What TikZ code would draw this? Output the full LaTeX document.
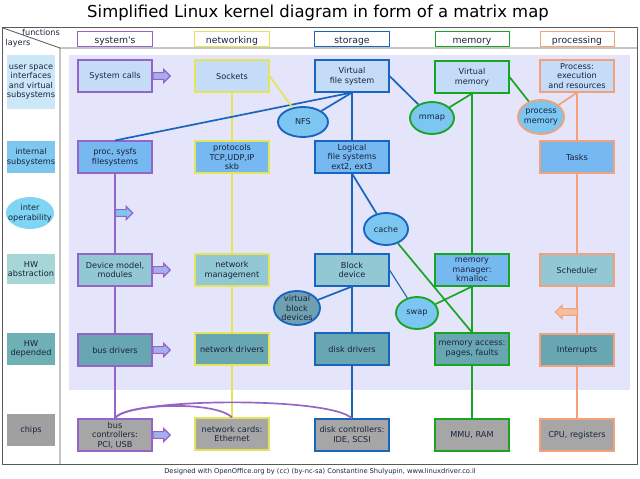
\documentclass[tikz,border=0pt]{standalone}
\usepackage{fontspec}
\setmainfont{DejaVu Sans}
\usetikzlibrary{shapes.geometric,shapes.arrows}
\definecolor{sysc}{RGB}{150,100,200}
\definecolor{netc}{RGB}{228,228,90}
\definecolor{stoc}{RGB}{25,100,190}
\definecolor{memc}{RGB}{25,165,35}
\definecolor{prc}{RGB}{244,160,120}
\definecolor{prcl}{RGB}{246,190,160}
\definecolor{bgc}{RGB}{228,228,250}
\definecolor{userc}{RGB}{196,220,248}
\definecolor{intc}{RGB}{118,184,240}
\definecolor{hwac}{RGB}{146,200,212}
\definecolor{hwdc}{RGB}{104,166,178}
\definecolor{chipc}{RGB}{166,166,166}
\definecolor{ellc}{RGB}{124,198,242}
\definecolor{vbdc}{RGB}{110,160,176}
\definecolor{arrc}{RGB}{165,175,235}
\definecolor{txtc}{RGB}{25,35,60}
\definecolor{framec}{RGB}{90,90,90}
\definecolor{lusr}{RGB}{204,232,248}
\definecolor{lint}{RGB}{126,200,240}
\definecolor{lio}{RGB}{126,214,244}
\definecolor{lhwa}{RGB}{166,214,214}
\definecolor{lhwd}{RGB}{110,176,180}
\definecolor{lchip}{RGB}{160,160,160}
\newcommand\mapfont{\fontsize{5.8}{6.8}\selectfont}
\newcommand\mapheadfont{\fontsize{6.6}{7.5}\selectfont}
\newcommand\maptitlefont{\fontsize{11.7}{13}\selectfont}
\newcommand\mapfootfont{\fontsize{4.75}{5.5}\selectfont}
\begin{document}
\begin{tikzpicture}[x=0.025cm,y=-0.025cm,
  every node/.style={text=txtc,font=\mapfont},
  box/.style={draw,line width=1.3pt,minimum width=1.83cm,minimum height=0.78cm,align=center,inner sep=1pt},
  colhead/.style={draw,line width=0.7pt,minimum width=1.85cm,minimum height=0.34cm,inner sep=0pt,
    text height=1.6ex,text depth=0.45ex,font=\mapheadfont},
  rowlabel/.style={minimum width=1.2cm,align=center,inner sep=0pt},
  bubble/.style={ellipse,draw,line width=1.3pt,fill=ellc,inner sep=0pt,align=center},
  blockarrow/.style={single arrow,draw=#1,line width=0.8pt,inner xsep=0pt,inner ysep=0.07cm,
    single arrow head extend=0.08cm,minimum height=0.43cm,anchor=tail},
  wire/.style={line width=1.2pt}]
\useasboundingbox (0,0) rectangle (640,479);
\fill[bgc] (69,55) rectangle (630,390);
\node[font=\maptitlefont,text=black] (title) at (318,13) {Simplified Linux kernel diagram in form of a matrix map};
\draw[framec,line width=0.6pt] (2,27) rectangle (637,464);
\draw[framec,line width=0.6pt] (3,28) -- (60,48) -- (637,48) (60,48) -- (60,464);
\node (fn) at (41,32) {functions};
\node (ly) at (18,43) {layers};

\node[colhead,draw=sysc] (hsys) at (115,39) {system\textquotesingle s};
\node[colhead,draw=netc] (hnet) at (232,39) {networking};
\node[colhead,draw=stoc] (hsto) at (352,39) {storage};
\node[colhead,draw=memc] (hmem) at (472,39) {memory};
\node[colhead,draw=prc] (hprc) at (577,39) {processing};

\node[rowlabel,fill=lusr,minimum height=1.35cm] (rusr) at (31,82) {user space\\interfaces\\and virtual\\subsystems};
\node[rowlabel,fill=lint,minimum height=0.78cm] (rint) at (31,157) {internal\\subsystems};
\node[ellipse,fill=lio,minimum width=1.2cm,minimum height=0.8cm,inner xsep=-6pt,inner ysep=0pt,align=center] (rio) at (30,213) {inter\\operability};
\node[rowlabel,fill=lhwa,minimum height=0.75cm] (rhwa) at (31,269) {HW\\abstraction};
\node[rowlabel,fill=lhwd,minimum height=0.78cm] (rhwd) at (31,349) {HW\\depended};
\node[rowlabel,fill=lchip,minimum height=0.78cm] (rchip) at (31,430) {chips};

\node[box,draw=sysc,fill=userc] (syscall) at (115,76) {System calls};
\node[box,draw=netc,fill=userc] (sockets) at (232,76) {Sockets};
\node[box,draw=stoc,fill=userc] (vfs) at (352,76) {Virtual\\file system};
\node[box,draw=memc,fill=userc] (vmem) at (472,77) {Virtual\\memory};
\node[box,draw=prc,fill=userc] (process) at (577,76) {Process:\\execution\\and resources};

\node[box,draw=sysc,fill=intc] (procfs) at (115,157) {proc, sysfs\\filesystems};
\node[box,draw=netc,fill=intc] (proto) at (232,157) {protocols\\TCP,UDP,IP\\skb};
\node[box,draw=stoc,fill=intc] (logfs) at (352,157) {Logical\\file systems\\ext2, ext3};
\node[box,draw=prc,fill=intc] (tasks) at (577,157) {Tasks};

\node[box,draw=sysc,fill=hwac] (devmodel) at (115,270) {Device model,\\modules};
\node[box,draw=netc,fill=hwac] (netmgmt) at (232,270) {network\\management};
\node[box,draw=stoc,fill=hwac] (block) at (352,270) {Block\\device};
\node[box,draw=memc,fill=intc] (mmgr) at (472,270) {memory\\manager:\\kmalloc};
\node[box,draw=prc,fill=hwac] (sched) at (577,270) {Scheduler};

\node[box,draw=sysc,fill=hwdc] (busdrv) at (115,350) {bus drivers};
\node[box,draw=netc,fill=hwdc] (netdrv) at (232,349) {network drivers};
\node[box,draw=stoc,fill=hwdc] (diskdrv) at (352,349) {disk drivers};
\node[box,draw=memc,fill=hwdc] (memacc) at (472,349) {memory access:\\pages, faults};
\node[box,draw=prc,fill=hwdc] (irq) at (577,350) {Interrupts};

\node[box,draw=sysc,fill=chipc] (busctl) at (115,435) {bus\\controllers:\\PCI, USB};
\node[box,draw=netc,fill=chipc] (netcard) at (232,434) {network cards:\\Ethernet};
\node[box,draw=stoc,fill=chipc] (diskctl) at (352,435) {disk controllers:\\IDE, SCSI};
\node[box,draw=memc,fill=chipc] (mmu) at (472,435) {MMU, RAM};
\node[box,draw=prc,fill=chipc] (cpu) at (577,435) {CPU, registers};

\node[bubble,draw=stoc,minimum width=1.25cm,minimum height=0.75cm] (nfs) at (303,122) {NFS};
\node[bubble,draw=memc,minimum width=1.1cm,minimum height=0.8cm] (mmap) at (432,118) {mmap};
\node[bubble,draw=prc,minimum width=1.15cm,minimum height=0.85cm,inner xsep=-2pt] (pmem) at (541,117) {process\\memory};
\node[bubble,draw=stoc,minimum width=1.1cm,minimum height=0.8cm] (cache) at (386,229) {cache};
\node[bubble,draw=memc,minimum width=1.05cm,minimum height=0.8cm] (swap) at (417,313) {swap};
\node[bubble,draw=stoc,fill=vbdc,minimum width=1.15cm,minimum height=0.85cm,inner xsep=-3pt,inner ysep=-3pt] (vbd) at (297,308) {virtual\\block\\devices};

\draw[wire,sysc] (procfs) -- (devmodel) -- (busdrv) -- (busctl);
\draw[wire,netc] (sockets) -- (proto) -- (netmgmt) -- (netdrv) -- (netcard);
\draw[wire,stoc] (vfs) -- (logfs) -- (block) -- (diskdrv) -- (diskctl);
\draw[wire,memc] (vmem) -- (mmgr) -- (memacc) -- (mmu);
\draw[wire,prc] (process) -- (tasks) -- (sched) -- (irq) -- (cpu);
\draw[wire,stoc] (procfs.north) -- (vfs.south);
\draw[wire,stoc] (nfs) -- (vfs.south);
\draw[wire,netc] (sockets.east) -- (nfs);
\draw[wire,stoc] (vfs.east) -- (mmap);
\draw[wire,memc] (mmap) -- (vmem.south);
\draw[wire,memc] (vmem.east) -- (pmem);
\draw[wire,prc] (pmem) -- (process.south);
\draw[wire,stoc] (logfs.south) -- (cache);
\draw[wire,memc] (cache) -- (memacc.north);
\draw[wire,stoc,line width=0.8pt] (block.east) -- (swap);
\draw[wire,memc] (swap) -- (mmgr.south);
\draw[wire,stoc] (block.south) -- (vbd);
\draw[wire,sysc] (busctl.north) .. controls (122,404) and (215,400) .. (netcard.north);
\draw[wire,sysc] (busctl.north) .. controls (125,398) and (330,396) .. (diskctl.north);

\node[blockarrow=sysc,fill=arrc] (asys) at (syscall.east) {};
\node[blockarrow=sysc,fill=lint] (aio) at (115,213) {};
\node[blockarrow=sysc,fill=arrc] (adev) at (devmodel.east) {};
\node[blockarrow=sysc,fill=arrc] (abus) at (busdrv.east) {};
\node[blockarrow=sysc,fill=arrc] (actl) at (busctl.east) {};
\node[blockarrow=prc,fill=prcl,shape border rotate=180,minimum height=0.55cm] (airq) at (578,312) {};

\node[font=\mapfootfont] (foot) at (320,472) {Designed with OpenOffice.org by (cc) (by-nc-sa) Constantine Shulyupin, www.linuxdriver.co.il};
\end{tikzpicture}
\end{document}
